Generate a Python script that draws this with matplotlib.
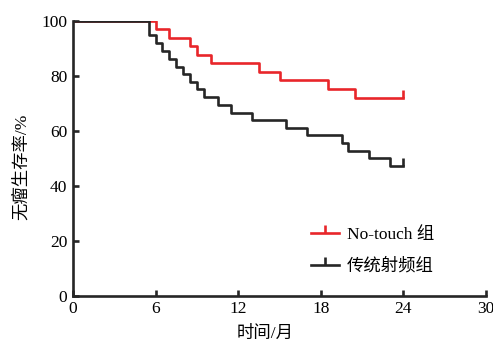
import matplotlib.pyplot as plt

plt.rcParams['font.family'] = ['Liberation Serif', 'Noto Sans CJK SC']

# (months, % tumour-free)
t_notouch = [0, 6, 7, 8.5, 9, 10, 13.5, 15, 18.5, 20.5, 24]
s_notouch = [100, 97.1, 93.9, 90.8, 87.7, 84.6, 81.6, 78.5, 75.4, 72.0, 72.0]

t_rfa = [0, 5.5, 6, 6.5, 7, 7.5, 8, 8.5, 9, 9.5, 10.5, 11.5, 13, 15.5, 17,
         19.5, 20, 21.5, 23, 24]
s_rfa = [100, 94.9, 92.1, 89.2, 86.1, 83.4, 80.6, 78.0, 75.2, 72.2, 69.5,
         66.6, 64.0, 61.2, 58.4, 55.6, 52.8, 50.0, 47.2, 47.2]

xticks = [0, 6, 12, 18, 24, 30]
yticks = [0, 20, 40, 60, 80, 100]

red = '#e8262a'
black = '#262626'
lw = 1.9

fig = plt.figure(figsize=(4.93, 3.46), dpi=100)
ax = fig.add_axes([0.148, 0.145, 0.838, 0.794])

ax.step(t_notouch, s_notouch, where='post', color=red, lw=lw)
ax.step(t_rfa, s_rfa, where='post', color=black, lw=lw)
# censoring ticks at the end of follow-up
ax.plot(t_notouch[-1], s_notouch[-1], marker=2, color=red, ms=6, mew=lw)
ax.plot(t_rfa[-1], s_rfa[-1], marker=2, color=black, ms=6, mew=lw)

# legend handles
h1, = ax.plot([], [], color=red, lw=lw, marker=2, ms=6, mew=lw)
h2, = ax.plot([], [], color=black, lw=lw, marker=2, ms=6, mew=lw)
ax.legend([h1, h2], ['No-touch 组', '传统射频组'], frameon=False,
          loc='upper left', bbox_to_anchor=(0.6, 0.39), bbox_transform=fig.transFigure,
          fontsize=12.5, handlelength=1.6, handletextpad=0.45, labelspacing=0.9,
          markerfirst=True)

ax.set_xlim(0, 30)
ax.set_ylim(0, 100)
ax.set_xticks(xticks)
ax.set_yticks(yticks)
ax.spines['top'].set_visible(False)
ax.spines['right'].set_visible(False)
for s in ['left', 'bottom']:
    ax.spines[s].set_linewidth(lw)
    ax.spines[s].set_color(black)
ax.tick_params(direction='in', length=4, width=lw, labelsize=12.5, color=black, pad=4)

ax.set_xlabel('时间/月', fontsize=12.5)
ax.set_ylabel('无瘤生存率/%', fontsize=12.5)
ax.xaxis.set_label_coords(0.465, -0.11)
ax.yaxis.set_label_coords(-0.105, 0.47)

fig.savefig('out.png', dpi=100)
